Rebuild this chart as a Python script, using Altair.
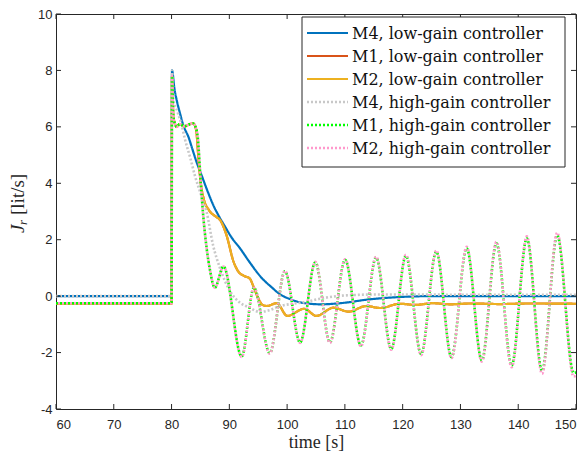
import altair as alt
import pandas as pd

series_names = [
    "M4, low-gain controller",
    "M1, low-gain controller",
    "M2, low-gain controller",
    "M4, high-gain controller",
    "M1, high-gain controller",
    "M2, high-gain controller",
]
series_colors = ["#0072BD", "#D95319", "#EDB120", "#C8C8C8", "#00FF00", "#FF99CC"]

x_ticks = [60, 70, 80, 90, 100, 110, 120, 130, 140, 150]
y_ticks = [-4, -2, 0, 2, 4, 6, 8, 10]

# M4, low-gain
m4_low_t = [60, 80, 80.08, 80.5, 81, 81.5, 82, 83, 83.5, 84.25, 85.26, 86.27, 87.28, 88.29, 89.3, 90.32,
            91.83, 93.35, 95.37, 97.4, 98.81, 100.43, 102.25, 103.97, 105.99, 108.02, 110.54, 113.58,
            116.61, 120.65, 124.7, 129.76, 150]
m4_low_y = [0, 0, 8.0, 7.35, 6.85, 6.45, 6.08, 5.6, 5.28, 4.8, 4.25, 3.7, 3.2, 2.8, 2.45, 2.1,
            1.7, 1.25, 0.7, 0.3, 0.06, -0.1, -0.22, -0.27, -0.29, -0.27, -0.22, -0.13,
            -0.07, -0.02, 0.0, 0.0, 0.0]

# M1 / M2, low-gain
low_t = [60, 80, 80.08, 80.3, 80.6, 80.9, 81.4, 82.2, 83.24, 83.74,
         84.25, 84.65, 85.06, 85.56, 86.47, 87.79, 88.39, 89.51, 90.72, 91.63,
         92.54, 93.55, 94.16, 94.97, 95.68, 96.49, 98.2, 100.03, 102.96, 105.08,
         108.02, 110.65, 113.68, 116.11, 119.55, 122.18, 125.21, 128.24, 131.78, 136.84,
         141.9, 150]
m1_low_y = [-0.27, -0.27, 7.8, 6.4, 6.1, 6.0, 6.1, 6.02, 6.1, 6.12,
            5.9, 4.9, 4.0, 3.45, 3.05, 2.8, 2.7, 2.16, 1.23, 0.85,
            0.72, 0.62, 0.35, -0.06, -0.3, -0.35, -0.25, -0.7, -0.45, -0.7,
            -0.41, -0.55, -0.35, -0.42, -0.27, -0.31, -0.25, -0.29, -0.26, -0.28,
            -0.26, -0.27]
m2_low_y = [-0.27, -0.27, 7.8, 6.4, 6.1, 6.0, 6.1, 6.02, 6.1, 6.12,
            5.9, 4.9, 4.0, 3.45, 3.05, 2.8, 2.7, 2.16, 1.23, 0.85,
            0.72, 0.62, 0.35, -0.06, -0.3, -0.35, -0.25, -0.7, -0.45, -0.7,
            -0.41, -0.55, -0.35, -0.42, -0.27, -0.31, -0.25, -0.29, -0.26, -0.28,
            -0.26, -0.27]

# M4, high-gain
m4_high_t = [60, 80, 80.08, 80.3, 81.0, 81.7, 82.33, 83.24, 84.04, 85.26, 86.07, 87.18, 88.39, 90.11,
             91.83, 93.55, 95.27, 96.89, 98.81, 100.94, 103.36, 105.49, 108.52, 111.56, 115.6, 119.65,
             129.76, 150]
m4_high_y = [0, 0, 8.0, 7.0, 6.55, 6.1, 5.55, 4.9, 4.27, 3.5, 2.98, 1.81, 0.99, 0.18,
             -0.23, -0.41, -0.56, -0.5, -0.35, -0.27, -0.2, -0.1, 0.0, 0.04, 0.06, 0.06,
             0.05, 0.05]

# M1 / M2, high-gain
high_t = [60, 80, 80.08, 80.3, 80.6, 80.9, 81.4, 82.2, 83.24, 83.74,
          84.15, 84.55, 85.06, 85.46, 86.07, 86.67, 87.48, 89.0, 92.14, 94.26,
          96.99, 99.62, 102.25, 104.88, 107.41, 110.04, 112.77, 115.4, 118.03, 120.56,
          123.19, 125.82, 128.45, 131.08, 133.7, 136.23, 138.86, 141.49, 144.12, 146.75,
          149.58, 150]
m1_high_y = [-0.25, -0.25, 7.8, 6.4, 6.1, 6.0, 6.1, 6.02, 6.1, 6.12,
             6.0, 5.6, 4.0, 2.9, 1.7, 0.9, 0.3, 1.05, -2.14, 0.3,
             -2.02, 0.88, -1.64, 1.2, -1.64, 1.29, -1.75, 1.37, -1.87, 1.43,
             -2.05, 1.58, -2.16, 1.7, -2.28, 1.87, -2.46, 2.05, -2.65, 2.16,
             -2.72, -2.7]
m2_high_y = [-0.25, -0.25, 7.8, 6.4, 6.1, 6.0, 6.1, 6.02, 6.1, 6.12,
             6.0, 5.6, 4.0, 2.9, 1.7, 0.9, 0.3, 1.05, -2.16, 0.3,
             -2.04, 0.9, -1.66, 1.22, -1.66, 1.31, -1.78, 1.4, -1.9, 1.47,
             -2.09, 1.62, -2.2, 1.75, -2.32, 1.92, -2.52, 2.12, -2.75, 2.25,
             -2.85, -2.83]

series_t = [m4_low_t, low_t, low_t, m4_high_t, high_t, high_t]
series_y = [m4_low_y, m1_low_y, m2_low_y, m4_high_y, m1_high_y, m2_high_y]

frames = []
for name, ts, ys in zip(series_names, series_t, series_y):
    frames.append(pd.DataFrame({"t": ts, "y": ys, "series": name}))
df = pd.concat(frames, ignore_index=True)

W, H = 520, 395
INK = "#262626"

dash_list = [[1, 0], [1, 0], [1, 0], [2, 2], [2, 2], [2, 2]]
widths = [2.2, 2.2, 2.2, 2.6, 2.6, 2.6]
offsets = [0, 0, 0, 0, 0, 2]

x_enc = alt.X(
    "t:Q",
    scale=alt.Scale(domain=[60, 150], nice=False, zero=False),
    axis=alt.Axis(
        values=x_ticks, title="time [s]", ticks=False, grid=False, domain=False,
        labelFont="Liberation Sans", labelFontSize=13, labelColor=INK, labelPadding=9,
        labelExpr="'' + datum.value",
        titleFont="Liberation Serif", titleFontSize=18, titleFontWeight="normal",
        titleColor=INK, titlePadding=2,
    ),
)
y_enc = alt.Y(
    "y:Q",
    scale=alt.Scale(domain=[-4, 10], nice=False, zero=False),
    axis=alt.Axis(
        values=y_ticks, title=None, ticks=False, grid=False, domain=False,
        labelFont="Liberation Sans", labelFontSize=13, labelColor=INK, labelPadding=4,
        labelExpr="'' + datum.value",
    ),
)
color_enc = alt.Color(
    "series:N",
    scale=alt.Scale(domain=series_names, range=series_colors),
    legend=None,
)

layers = []
for i, name in enumerate(series_names):
    mk = dict(interpolate="monotone", strokeWidth=widths[i], clip=True,
              strokeDash=dash_list[i])
    if offsets[i]:
        mk["strokeDashOffset"] = offsets[i]
    layers.append(
        alt.Chart(df)
        .transform_filter(alt.datum.series == name)
        .mark_line(**mk)
        .encode(x=x_enc, y=y_enc, color=color_enc)
    )

xt = pd.DataFrame({"t": x_ticks})
yt = pd.DataFrame({"y": y_ticks})
tick_bottom = alt.Chart(xt).mark_rule(color=INK, strokeWidth=1).encode(
    x=x_enc, y=alt.value(H), y2=alt.value(H - 5))
tick_top = alt.Chart(xt).mark_rule(color=INK, strokeWidth=1).encode(
    x=x_enc, y=alt.value(0), y2=alt.value(5))
tick_left = alt.Chart(yt).mark_rule(color=INK, strokeWidth=1).encode(
    y=y_enc, x=alt.value(0), x2=alt.value(5))
tick_right = alt.Chart(yt).mark_rule(color=INK, strokeWidth=1).encode(
    y=y_enc, x=alt.value(W), x2=alt.value(W - 5))

ytitle_J = alt.Chart(pd.DataFrame({"s": ["J"]})).mark_text(
    angle=270, align="left", baseline="middle", font="Liberation Serif",
    fontSize=19, fontStyle="italic", color=INK).encode(
    text="s:N", x=alt.value(-38), y=alt.value(219))
ytitle_r = alt.Chart(pd.DataFrame({"s": ["r"]})).mark_text(
    angle=270, align="left", baseline="middle", font="Liberation Serif",
    fontSize=13, fontStyle="italic", color=INK).encode(
    text="s:N", x=alt.value(-33), y=alt.value(211))
ytitle_rest = alt.Chart(pd.DataFrame({"s": ["[lit/s]"]})).mark_text(
    angle=270, align="left", baseline="middle", font="Liberation Serif",
    fontSize=19, color=INK).encode(
    text="s:N", x=alt.value(-38), y=alt.value(201))

# legend drawn as a box with sample strokes and labels
LX0, LX1, LY0, LY1 = 246, 509, 3, 153
row_y = [19, 42, 65, 88, 111, 134]
legend_box = alt.Chart(pd.DataFrame({"a": [0]})).mark_rect(
    fill="white", stroke=INK, strokeWidth=1).encode(
    x=alt.value(LX0), x2=alt.value(LX1), y=alt.value(LY0), y2=alt.value(LY1))
legend_layers = [legend_box]
for i, name in enumerate(series_names):
    lk = dict(color=series_colors[i], strokeWidth=widths[i], strokeDash=dash_list[i])
    legend_layers.append(
        alt.Chart(pd.DataFrame({"a": [0]})).mark_rule(**lk).encode(
            x=alt.value(251), x2=alt.value(292), y=alt.value(row_y[i]))
    )
    legend_layers.append(
        alt.Chart(pd.DataFrame({"s": [name]})).mark_text(
            align="left", baseline="middle", font="DejaVu Serif", fontSize=16,
            color="#111111").encode(
            text="s:N", x=alt.value(296), y=alt.value(row_y[i] + 1))
    )

chart = alt.layer(
    *layers, tick_bottom, tick_top, tick_left, tick_right,
    ytitle_J, ytitle_r, ytitle_rest, *legend_layers,
).properties(
    width=W, height=H,
    autosize=alt.AutoSizeParams(type="none"),
    padding={"left": 48, "top": 6, "right": 3, "bottom": 42},
    background="white",
).configure_view(
    stroke=INK, strokeWidth=1,
)

chart.save("out.html", embed_options={"renderer": "svg", "actions": False})
